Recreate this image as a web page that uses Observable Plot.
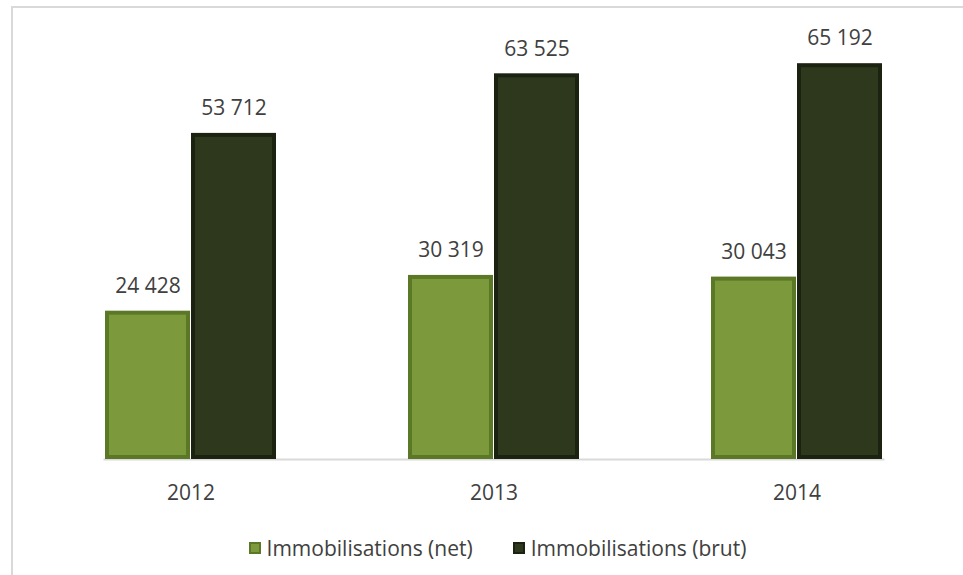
<!DOCTYPE html>
<html>
<head>
<meta charset="utf-8">
<script src="https://cdn.jsdelivr.net/npm/d3@7"></script>
<script src="https://cdn.jsdelivr.net/npm/@observablehq/plot@0.6"></script>
<style>
  html, body { margin: 0; padding: 0; background: #fff; }
  body { width: 963px; height: 575px; position: relative; overflow: hidden; font-family: "Open Sans", sans-serif; }
  #frame { position: absolute; left: 11px; top: 6px; right: 0; bottom: 0; border-left: 2px solid #d9d9d9; border-top: 2px solid #d9d9d9; pointer-events: none; }
  #chart svg { display: block; }
  #legend { display: flex; justify-content: center; align-items: center; gap: 40px; font-size: 21px; color: #404040; margin-top: 24px; padding-left: 32px; }
  #legend .item { display: flex; align-items: center; gap: 6px; }
  #legend .sw { width: 12px; height: 12px; box-sizing: border-box; border: 2px solid; }
</style>
</head>
<body>
<div id="chart"></div>
<div id="legend"></div>
<div id="frame"></div>
<script>
const years = ["2012", "2013", "2014"];
const series = ["Immobilisations (net)", "Immobilisations (brut)"];
const netValues = [24428, 30319, 30043];
const brutValues = [53712, 63525, 65192];
const fillColors = ["#7c9a3b", "#2e381c"];
const edgeColors = ["#5b7826", "#1b2210"];

const data = [];
years.forEach((y, i) => {
  data.push({year: y, series: series[0], value: netValues[i]});
  data.push({year: y, series: series[1], value: brutValues[i]});
});

const fmt = d3.formatLocale({decimal: ",", thousands: "\u00a0", grouping: [3], currency: ["", " €"]}).format(",d");

const plot = Plot.plot({
  width: 963,
  height: 510,
  marginLeft: 39,
  marginRight: 15,
  marginTop: 34,
  marginBottom: 51,
  style: {fontFamily: "'Open Sans', sans-serif", fontSize: "21px", color: "#404040", background: "transparent"},
  fx: {domain: years, paddingInner: 0.43, paddingOuter: 0.215, label: null, tickSize: 0, tickPadding: 26},
  x: {domain: series, axis: null, padding: 0.01},
  y: {domain: [0, 70000], axis: null},
  color: {domain: series, range: fillColors},
  marks: [
    Plot.frame({anchor: "bottom", stroke: "#d9d9d9", strokeWidth: 2, strokeOpacity: 1, facet: "super"}),
    Plot.barY(data, {fx: "year", x: "series", y: "value", fill: d => edgeColors[series.indexOf(d.series)]}),
    Plot.barY(data, {fx: "year", x: "series", y: "value", fill: "series", inset: 4}),
    Plot.text(data, {fx: "year", x: "series", y: "value", text: d => fmt(d.value), dy: -25, fill: "#404040", fontSize: 21, lineAnchor: "middle"})
  ]
});
document.getElementById("chart").appendChild(plot);

const legend = document.getElementById("legend");
series.forEach((s, i) => {
  const item = document.createElement("div");
  item.className = "item";
  const sw = document.createElement("span");
  sw.className = "sw";
  sw.style.background = fillColors[i];
  sw.style.borderColor = edgeColors[i];
  const label = document.createElement("span");
  label.textContent = s;
  item.appendChild(sw);
  item.appendChild(label);
  legend.appendChild(item);
});
</script>
</body>
</html>
